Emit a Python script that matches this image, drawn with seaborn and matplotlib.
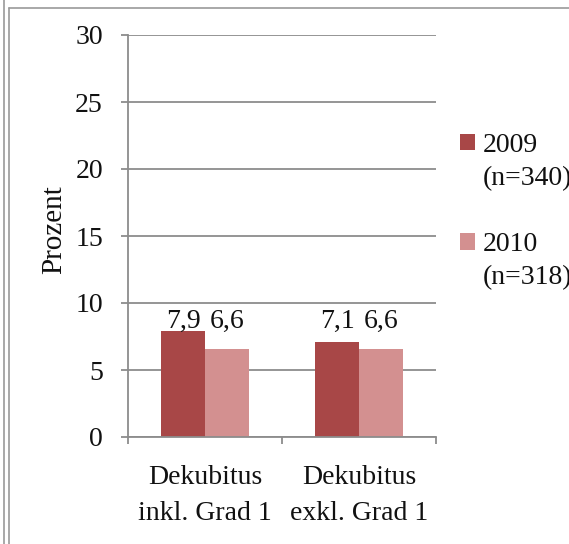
import numpy as np
import pandas as pd
import seaborn as sns
import matplotlib.pyplot as plt
from matplotlib.lines import Line2D
from matplotlib.patches import Rectangle
from matplotlib.legend_handler import HandlerPatch

# Data
categories = ["Dekubitus\ninkl. Grad 1", "Dekubitus\nexkl. Grad 1"]
series = ["2009\n(n=340)", "2010\n(n=318)"]
values_2009 = [7.9, 7.1]
values_2010 = [6.6, 6.6]
colors = ["#A84747", "#D39090"]
y_ticks = [0, 5, 10, 15, 20, 25, 30]

df = pd.DataFrame({
    "Kategorie": categories * 2,
    "Jahr": [series[0]] * 2 + [series[1]] * 2,
    "Prozent": values_2009 + values_2010,
})

sns.set_theme(style="white")
plt.rcParams["font.family"] = ["Liberation Serif", "DejaVu Serif"]
FS = 20
grid_col = "#8C8C8C"
txt_col = "#111111"

fig = plt.figure(figsize=(5.69, 5.44), dpi=100)
ax = fig.add_axes([128 / 569, 1 - 437 / 544, 308 / 569, 402 / 544])

sns.barplot(data=df, x="Kategorie", y="Prozent", hue="Jahr",
            palette=colors, width=0.57, gap=0, dodge=True,
            saturation=1, legend=False, ax=ax, errorbar=None, linewidth=0)

ax.set_ylim(0, 30)
ax.set_xlim(-0.5, 1.5)
ax.set_yticks(y_ticks)
ax.set_yticklabels([str(t) for t in y_ticks], fontsize=FS, color=txt_col)
ax.set_axisbelow(True)
ax.yaxis.grid(True, color=grid_col, linewidth=1.3)
ax.xaxis.grid(False)

for side in ["top", "right"]:
    ax.spines[side].set_visible(False)
for side in ["left", "bottom"]:
    ax.spines[side].set_color(grid_col)
    ax.spines[side].set_linewidth(1.3)

ax.tick_params(axis="y", which="major", length=5, width=1.3, color=grid_col,
               direction="out", left=True, pad=13)
# category labels centred, tick marks on the category boundaries
ax.set_xticks([0, 1])
ax.set_xticklabels(categories, fontsize=FS, color=txt_col, linespacing=1.6)
ax.set_xticks([-0.5, 0.5, 1.5], minor=True)
ax.tick_params(axis="x", which="major", length=0, pad=20)
ax.tick_params(axis="x", which="minor", length=5, width=1.3, color=grid_col,
               direction="out", bottom=True)
ax.set_xlabel("")
ax.set_ylabel("Prozent", fontsize=21, color=txt_col)
ax.yaxis.set_label_coords(-0.198, 0.515)

# value labels over the bars
top = max(values_2009 + values_2010)
for cont in ax.containers:
    for patch in cont:
        v = patch.get_height()
        ax.annotate(f"{v:.1f}".replace(".", ","),
                    (patch.get_x() + patch.get_width() / 2, top),
                    xytext=(0, 2), textcoords="offset points",
                    ha="center", va="baseline", fontsize=FS, color=txt_col)

# legend with the swatch aligned to the first text line
def top_square(legend, orig_handle, xdescent, ydescent, width, height, fontsize):
    return Rectangle((-xdescent, -ydescent + 0.7 * fontsize), width, height)

handles = [Rectangle((0, 0), 1, 1, facecolor=c, edgecolor="none") for c in colors]
leg = fig.legend(handles, series, loc="upper left",
                 bbox_to_anchor=(460 / 569, 1 - 133 / 544),
                 frameon=False, fontsize=FS, borderpad=0, borderaxespad=0,
                 handlelength=0.55, handleheight=0.55, handletextpad=0.28,
                 labelspacing=1.5,
                 handler_map={Rectangle: HandlerPatch(patch_func=top_square)})
for t in leg.get_texts():
    t.set_linespacing(1.4)
    t.set_color(txt_col)

# outer frame lines
fig.add_artist(Line2D([3.5 / 569, 3.5 / 569], [0, 1], color="#9A9A9A", lw=1.2,
                      transform=fig.transFigure))
fig.add_artist(Line2D([9 / 569, 9 / 569], [0, 1 - 7.5 / 544], color="#9A9A9A", lw=1.2,
                      transform=fig.transFigure))
fig.add_artist(Line2D([9 / 569, 1], [1 - 7.5 / 544, 1 - 7.5 / 544], color="#9A9A9A",
                      lw=1.2, transform=fig.transFigure))

fig.savefig("out.png", dpi=100)
